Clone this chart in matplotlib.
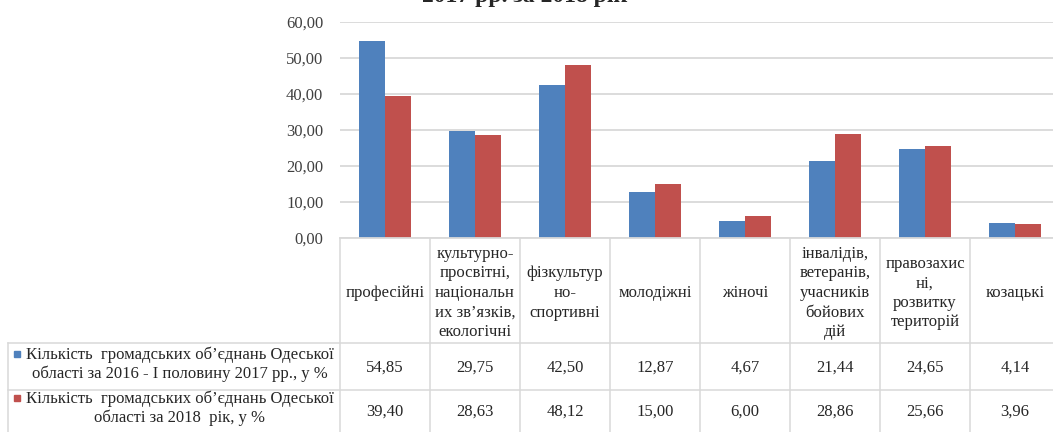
import matplotlib.pyplot as plt
import numpy as np

plt.rcParams['font.family'] = ['Liberation Serif', 'DejaVu Serif']

categories = ['професійні',
              'культурно-\nпросвітні,\nнаціональн\nих зв’язків,\nекологічні',
              'фізкультур\nно-\nспортивні',
              'молодіжні',
              'жіночі',
              'інвалідів,\nветеранів,\nучасників\nбойових\nдій',
              'правозахис\nні,\nрозвитку\nтериторій',
              'козацькі']
series_1 = [54.85, 29.75, 42.50, 12.87, 4.67, 21.44, 24.65, 4.14]
series_2 = [39.40, 28.63, 48.12, 15.00, 6.00, 28.86, 25.66, 3.96]
labels = ['Кількість  громадських об’єднань Одеської\nобласті за 2016 - I половину 2017 рр., у %',
          'Кількість  громадських об’єднань Одеської\nобласті за 2018  рік, у %']
colors = ['#4F81BD', '#C0504D']
yticks = [0, 10, 20, 30, 40, 50, 60]

W, H = 1053, 432
fig = plt.figure(figsize=(W / 100, H / 100), dpi=100)
# axes in pixel terms: left 340, bottom (y=0) at 238, top (y=60) at 22, 90 px per category
ax = fig.add_axes([340 / W, (H - 238) / H, 720 / W, 216 / H])

x = np.arange(len(categories))
w = 0.29
ax.bar(x - w / 2, series_1, w, color=colors[0], zorder=2)
ax.bar(x + w / 2, series_2, w, color=colors[1], zorder=2)

ax.set_xlim(-0.5, len(categories) - 0.5)
ax.set_ylim(0, 60)
ax.set_yticks(yticks)
ax.set_yticklabels([f'{v:.2f}'.replace('.', ',') for v in yticks],
                   fontsize=12, color='#404040')
ax.tick_params(axis='y', length=0, pad=12)
ax.set_xticks([])
ax.grid(axis='y', color='#d9d9d9', lw=1.3, zorder=0)
for s in ax.spines.values():
    s.set_visible(False)

grid_c = '#d9d9d9'
tc = '#262626'
fs = 12


def ya(ypix):
    return (238 - ypix) / 216


def xa(xpix):
    return (xpix - 340) / 720


blend = ax.get_xaxis_transform()
# table frame
ax.plot([-0.5, len(categories) - 0.5], [0, 0], color=grid_c, lw=1.3,
        transform=blend, clip_on=False)
for i in range(len(categories) + 1):
    ax.plot([i - 0.5, i - 0.5], [0, ya(440)], color=grid_c, lw=1.1,
            transform=blend, clip_on=False)
for yp in [343, 390]:
    ax.plot([xa(8), 1.1], [ya(yp), ya(yp)], color=grid_c, lw=1.1,
            transform=ax.transAxes, clip_on=False)
ax.plot([xa(8), xa(8)], [ya(343), ya(440)], color=grid_c, lw=1.1,
        transform=ax.transAxes, clip_on=False)

# header labels
for i, c in enumerate(categories):
    ax.text(i, ya(293), c, transform=blend, ha='center', va='center',
            fontsize=fs, color=tc, linespacing=1.3, clip_on=False)

# values
row_y = [368, 412]
for r, vals in enumerate([series_1, series_2]):
    for i, v in enumerate(vals):
        ax.text(i, ya(row_y[r]), f'{v:.2f}'.replace('.', ','), transform=blend,
                ha='center', va='center', fontsize=fs, color=tc, clip_on=False)
    ax.text(xa(180), ya(row_y[r] - 4), labels[r], transform=ax.transAxes,
            ha='center', va='center', fontsize=fs, color=tc,
            linespacing=1.2, clip_on=False)
    ax.plot([xa(17)], [ya(row_y[r] - 14)], marker='s', ms=4, color=colors[r],
            transform=ax.transAxes, clip_on=False)

# title (cut off at the top edge in the original)
fig.text(525 / W, 1 - 2 / H, '2017 рр. за 2018 рік', ha='center', va='baseline',
         fontsize=17, fontweight='bold', color=tc)

fig.savefig('out.png', dpi=100)
